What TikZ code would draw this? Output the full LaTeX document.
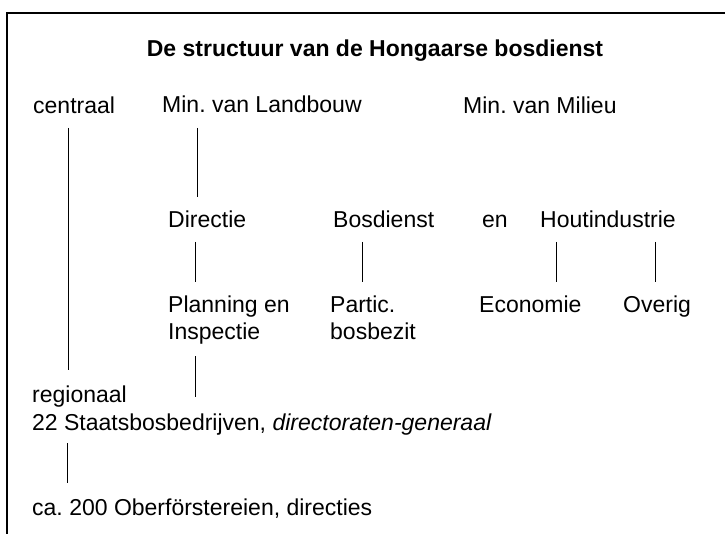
\documentclass[tikz,border=0pt]{standalone}
\usepackage{fontspec}
\setmainfont{Liberation Sans}
\usetikzlibrary{calc}
\frenchspacing
\begin{document}
\begin{tikzpicture}[x=1pt,y=-1pt,
  lbl/.style={inner sep=0pt,anchor=base west,font=\fontsize{23}{27}\selectfont\frenchspacing},
  ttl/.style={inner sep=0pt,anchor=base,font=\fontsize{23}{27}\selectfont\bfseries},
  conn/.style={line width=1pt},
  frame/.style={line width=1.6pt}]
\useasboundingbox (0,0) rectangle (725,534);
\draw[frame] (7,534) -- (7,13) -- (725,13);
\node[ttl] (title) at (375,57) {De structuur van de Hongaarse bosdienst};
\node[lbl] (centraal) at (33,114) {centraal};
\node[lbl] (landbouw) at (162,113) {Min. van Landbouw};
\node[lbl] (milieu) at (463,114) {Min. van Milieu};
\node[lbl] (directie) at (168,228) {Directie};
\node[lbl] (bosdienst) at (333,228) {Bosdienst};
\node[lbl] (en) at (482,228) {en};
\node[lbl] (hout) at (540,228) {Houtindustrie};
\node[lbl] (planning) at (168,313) {\begin{tabular}[t]{@{}l@{}}Planning en\\Inspectie\end{tabular}};
\node[lbl] (partic) at (330,313) {\begin{tabular}[t]{@{}l@{}}Partic.\\bosbezit\end{tabular}};
\node[lbl] (economie) at (479,313) {Economie};
\node[lbl] (overig) at (623,313) {Overig};
\node[lbl] (regionaal) at (32,402) {regionaal};
\node[lbl] (staats) at (32,430) {22 Staatsbosbedrijven, \textit{directoraten-generaal}};
\node[lbl] (ca) at (32,515) {ca. 200 Oberförstereien, directies};
\draw[conn] ($(centraal.base west)+(35,14)$) -- ($(regionaal.base west)+(36,-32)$);
\draw[conn] ($(landbouw.base west)+(35,15)$) -- ($(directie.base west)+(29,-31)$);
\draw[conn] ($(directie.base west)+(27,14)$) -- ($(planning.base west)+(27,-31)$);
\draw[conn] ($(bosdienst.base west)+(29,14)$) -- ($(partic.base west)+(32,-31)$);
\draw[conn] ($(hout.base west)+(16,14)$) -- ($(economie.base west)+(77,-31)$);
\draw[conn] ($(hout.base west)+(115,14)$) -- ($(overig.base west)+(32,-31)$);
\draw[conn] ($(planning.base west)+(27,43)$) -- ($(staats.base west)+(163,-33)$);
\draw[conn] ($(staats.base west)+(35,13)$) -- ($(ca.base west)+(35,-32)$);
\end{tikzpicture}
\end{document}
